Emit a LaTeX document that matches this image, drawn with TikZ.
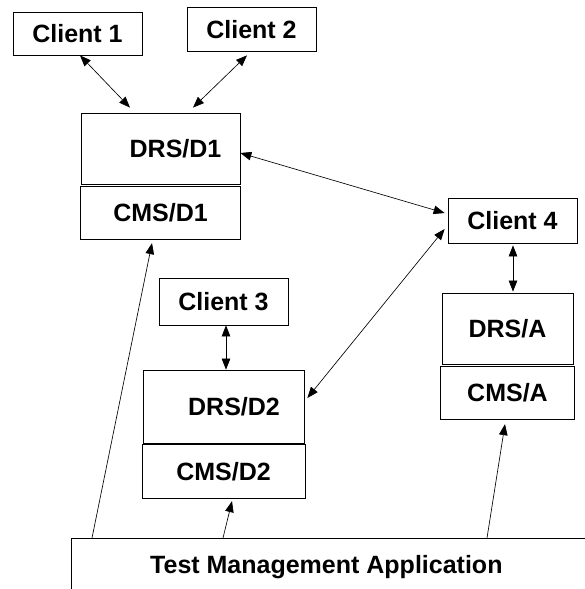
\documentclass[tikz,border=0pt]{standalone}
\usepackage{fontspec}
\setmainfont{Liberation Sans}
\usetikzlibrary{arrows.meta, positioning}

\begin{document}
\begin{tikzpicture}
    [
        x = 1pt, y = -1pt,
        > = {Triangle[length=11pt, width=8.5pt]},
        box/.style = {draw, rectangle, inner sep = 2pt, line width = 0.75pt,
                      font = \fontsize{25}{30}\selectfont\bfseries},
        link/.style = {line width = 0.65pt}
    ]
        \clip (0,0) rectangle (585,589);

        \node[box, minimum width = 129pt, minimum height = 43pt] (Client1) at (77.5,33.5) {Client 1};
        \node[box, minimum width = 129pt, minimum height = 44pt] (Client2) at (251.5,29.5) {Client 2};
        \node[box, minimum width = 159pt, minimum height = 71pt] (DrsD1) at (160.5,148.5) {\hspace*{30pt}DRS/D1};
        \node[box, minimum width = 160pt, minimum height = 53pt, below = 1.5pt of DrsD1] (CmsD1) {CMS/D1};

        \node[box, minimum width = 129pt, minimum height = 45pt] (Client4) at (512.5,220.5) {Client 4};
        \node[box, minimum width = 131pt, minimum height = 71pt] (DrsA) at (507.5,328.5) {DRS/A};
        \node[box, minimum width = 134pt, minimum height = 53pt, below = 1.5pt of DrsA] (CmsA) {CMS/A};

        \node[box, minimum width = 129pt, minimum height = 47pt] (Client3) at (223.5,301.5) {Client 3};
        \node[box, minimum width = 161pt, minimum height = 73pt] (DrsD2) at (223.5,406.5) {\hspace*{21pt}DRS/D2};
        \node[box, minimum width = 163pt, minimum height = 54pt, below = 0.5pt of DrsD2] (CmsD2) {CMS/D2};

        \node[box, anchor = north west, minimum width = 540pt, minimum height = 58pt] (Tma) at (71,538)
            {Test Management Application\kern30pt};

        % clients and servers
        \draw[link, <->] ([xshift=2.5pt]Client1.south) -- ([xshift=-30.5pt, yshift=5pt]DrsD1.north);
        \draw[link, <->] ([xshift=-4.5pt, yshift=-3.5pt]Client2.south) -- ([xshift=32.5pt, yshift=5pt]DrsD1.north);
        \draw[link, <->] ([yshift=-4.5pt]DrsD1.east) -- ([xshift=-3pt, yshift=7.5pt]Client4.west);
        \draw[link, <->] ([xshift=3pt, yshift=8.5pt]DrsD2.east) -- ([xshift=-3pt, yshift=-8.5pt]Client4.west);
        \draw[link, <->] ([xshift=0.5pt, yshift=-2pt]Client4.south) -- ([xshift=5.5pt, yshift=1pt]DrsA.north);
        \draw[link, <->] ([xshift=2.5pt]Client3.south) -- ([xshift=2.5pt]DrsD2.north);

        % test management
        \draw[link, ->] ([xshift=21pt]Tma.north west) -- ([xshift=-8.5pt, yshift=-3.5pt]CmsD1.south);
        \draw[link, ->] ([xshift=152pt]Tma.north west) -- ([xshift=8.5pt, yshift=-2.5pt]CmsD2.south);
        \draw[link, ->] ([xshift=416pt]Tma.north west) -- ([xshift=-2.5pt, yshift=-4.5pt]CmsA.south);
    \end{tikzpicture}
\end{document}
